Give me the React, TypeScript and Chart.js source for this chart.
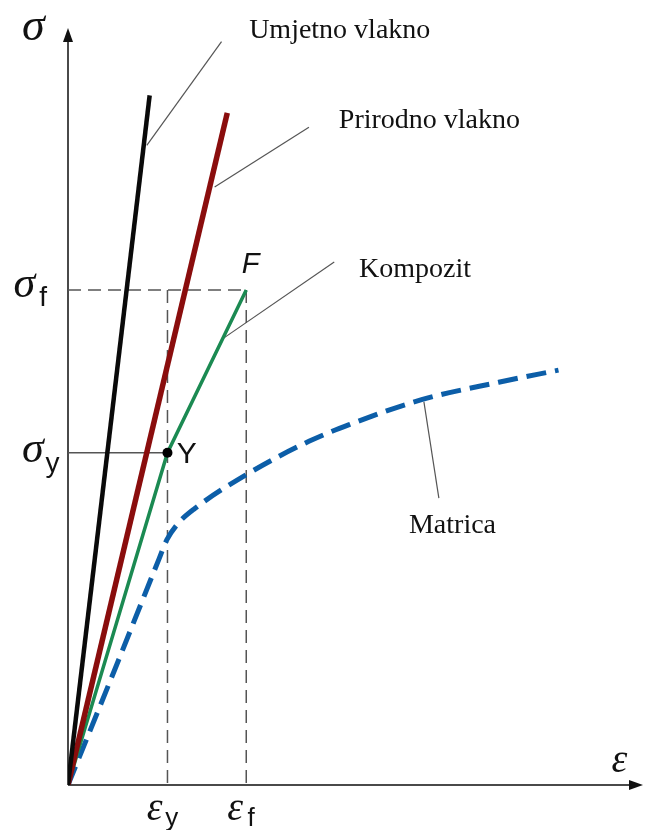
import React, { useEffect, useRef } from "react";
import { Chart, registerables } from "chart.js";

Chart.register(...registerables);

// Strain (ε) / stress (σ) in arbitrary schematic units
const umjetnoVlakno = [
  { x: 0, y: 0 },
  { x: 1.42, y: 9.11 },
];
const prirodnoVlakno = [
  { x: 0, y: 0 },
  { x: 2.77, y: 8.88 },
];
const epsY = 1.73;
const sigY = 4.39;
const epsF = 3.1;
const sigF = 6.54;
const kompozit = [
  { x: 0, y: 0 },
  { x: epsY, y: sigY },
  { x: epsF, y: sigF },
];
const matrica = [
  { x: 0, y: 0 },
  { x: 0.8, y: 1.5 },
  { x: 1.58, y: 2.98 },
  { x: 1.72, y: 3.24 },
  { x: 1.92, y: 3.46 },
  { x: 2.2, y: 3.65 },
  { x: 3.1, y: 4.1 },
  { x: 4.19, y: 4.54 },
  { x: 4.89, y: 4.76 },
  { x: 6.15, y: 5.09 },
  { x: 7.49, y: 5.32 },
  { x: 8.53, y: 5.48 },
];

// leader lines [from curve, to label]
const leaderUmjetno = [
  { x: 1.37, y: 8.45 },
  { x: 2.67, y: 9.82 },
];
const leaderPrirodno = [
  { x: 2.55, y: 7.9 },
  { x: 4.19, y: 8.69 },
];
const leaderKompozit = [
  { x: 2.7, y: 5.9 },
  { x: 4.63, y: 6.91 },
];
const leaderMatrica = [
  { x: 6.19, y: 5.06 },
  { x: 6.45, y: 3.79 },
];

const AXIS_MAX_X = 10;
const AXIS_MAX_Y = 10;

type Label = { t: string; x: number; y: number; font: string };
const SERIF = "'Liberation Serif', 'Times New Roman', serif";
const SANS = "'Liberation Sans', Arial, sans-serif";
const labels: Label[] = [
  { t: "Umjetno vlakno", x: 3.15, y: 9.87, font: `28px ${SERIF}` },
  { t: "Prirodno vlakno", x: 4.71, y: 8.68, font: `28px ${SERIF}` },
  { t: "Kompozit", x: 5.06, y: 6.71, font: `28px ${SERIF}` },
  { t: "Matrica", x: 5.93, y: 3.33, font: `28px ${SERIF}` },
  { t: "σ", x: -0.8, y: 9.84, font: `italic 46px ${SERIF}` },
  { t: "σ", x: -0.95, y: 6.45, font: `italic 44px ${SERIF}` },
  { t: "f", x: -0.5, y: 6.33, font: `28px ${SANS}` },
  { t: "σ", x: -0.8, y: 4.27, font: `italic 44px ${SERIF}` },
  { t: "y", x: -0.39, y: 4.13, font: `28px ${SANS}` },
  { t: "ε", x: 1.37, y: -0.46, font: `italic 40px ${SERIF}` },
  { t: "y", x: 1.69, y: -0.54, font: `26px ${SANS}` },
  { t: "ε", x: 2.77, y: -0.46, font: `italic 40px ${SERIF}` },
  { t: "f", x: 3.12, y: -0.54, font: `26px ${SANS}` },
  { t: "ε", x: 9.45, y: 0.17, font: `italic 40px ${SERIF}` },
  { t: "F", x: 3.02, y: 6.76, font: `italic 29px ${SANS}` },
  { t: "Y", x: 1.89, y: 4.25, font: `30px ${SANS}` },
];

const diagramPlugin = {
  id: "diagram",
  beforeDatasetsDraw(chart: any) {
    const { ctx, scales } = chart;
    const xs = scales.x;
    const ys = scales.y;
    const x0 = xs.getPixelForValue(0);
    const y0 = ys.getPixelForValue(0);
    const xEnd = xs.getPixelForValue(AXIS_MAX_X);
    const yEnd = ys.getPixelForValue(AXIS_MAX_Y);
    ctx.save();
    ctx.strokeStyle = "#4a4a4a";
    ctx.lineWidth = 2;
    ctx.beginPath();
    ctx.moveTo(x0, y0);
    ctx.lineTo(x0, yEnd + 8);
    ctx.moveTo(x0, y0);
    ctx.lineTo(xEnd - 8, y0);
    ctx.stroke();
    ctx.fillStyle = "#111";
    ctx.beginPath();
    ctx.moveTo(x0, yEnd);
    ctx.lineTo(x0 - 5, yEnd + 14);
    ctx.lineTo(x0 + 5, yEnd + 14);
    ctx.closePath();
    ctx.fill();
    ctx.beginPath();
    ctx.moveTo(xEnd, y0);
    ctx.lineTo(xEnd - 14, y0 - 5);
    ctx.lineTo(xEnd - 14, y0 + 5);
    ctx.closePath();
    ctx.fill();
    ctx.restore();
  },
  afterDraw(chart: any) {
    const { ctx, scales } = chart;
    ctx.save();
    ctx.fillStyle = "#111";
    ctx.textBaseline = "alphabetic";
    ctx.textAlign = "left";
    for (const l of labels) {
      ctx.font = l.font;
      ctx.fillText(l.t, scales.x.getPixelForValue(l.x), scales.y.getPixelForValue(l.y));
    }
    ctx.restore();
  },
};

export default function App() {
  const ref = useRef<HTMLCanvasElement>(null);
  useEffect(() => {
    document.body.style.margin = "0";
    const line = (data: any, color: string, width: number, extra: any = {}) => ({
      data,
      borderColor: color,
      borderWidth: width,
      showLine: true,
      pointRadius: 0,
      fill: false,
      ...extra,
    });
    const chart = new Chart(ref.current!, {
      type: "scatter",
      data: {
        datasets: [
          line([{ x: epsY, y: sigY }], "#000", 0, {
            showLine: false,
            pointRadius: 5,
            pointBackgroundColor: "#000",
            pointBorderWidth: 0,
            order: 0,
          }),
          line(umjetnoVlakno, "#0a0a0a", 4.5, { order: 1 }),
          line(prirodnoVlakno, "#8a0d0d", 5.5, { order: 1 }),
          line(kompozit, "#1b8a52", 3.5, { order: 1 }),
          line(matrica, "#0c5ea8", 5, {
            order: 1,
            borderDash: [20, 9],
            tension: 0.4,
            cubicInterpolationMode: "monotone",
          }),
          line(leaderUmjetno, "#555", 1.2, { order: 2 }),
          line(leaderPrirodno, "#555", 1.2, { order: 2 }),
          line(leaderKompozit, "#555", 1.2, { order: 2 }),
          line(leaderMatrica, "#555", 1.2, { order: 2 }),
          line([{ x: 0, y: sigF }, { x: epsF, y: sigF }], "#555", 1.5, { order: 3, borderDash: [13, 7] }),
          line([{ x: epsF, y: sigF }, { x: epsF, y: 0 }], "#555", 1.5, { order: 3, borderDash: [13, 7] }),
          line([{ x: epsY, y: sigF }, { x: epsY, y: 0 }], "#555", 1.5, { order: 3, borderDash: [13, 7] }),
          line([{ x: 0, y: sigY }, { x: epsY, y: sigY }], "#555", 1.5, { order: 3 }),
        ],
      },
      options: {
        animation: false,
        responsive: false,
        devicePixelRatio: 1,
        layout: { padding: { left: 68, right: 3, top: 28, bottom: 45 } },
        plugins: { legend: { display: false }, tooltip: { enabled: false } },
        scales: {
          x: { type: "linear", min: 0, max: AXIS_MAX_X, display: false },
          y: { type: "linear", min: 0, max: AXIS_MAX_Y, display: false },
        },
      } as any,
      plugins: [diagramPlugin],
    });
    return () => chart.destroy();
  }, []);
  return (
    <div style={{ width: 648, height: 830, background: "#fff" }}>
      <canvas ref={ref} width={648} height={830} />
    </div>
  );
}
